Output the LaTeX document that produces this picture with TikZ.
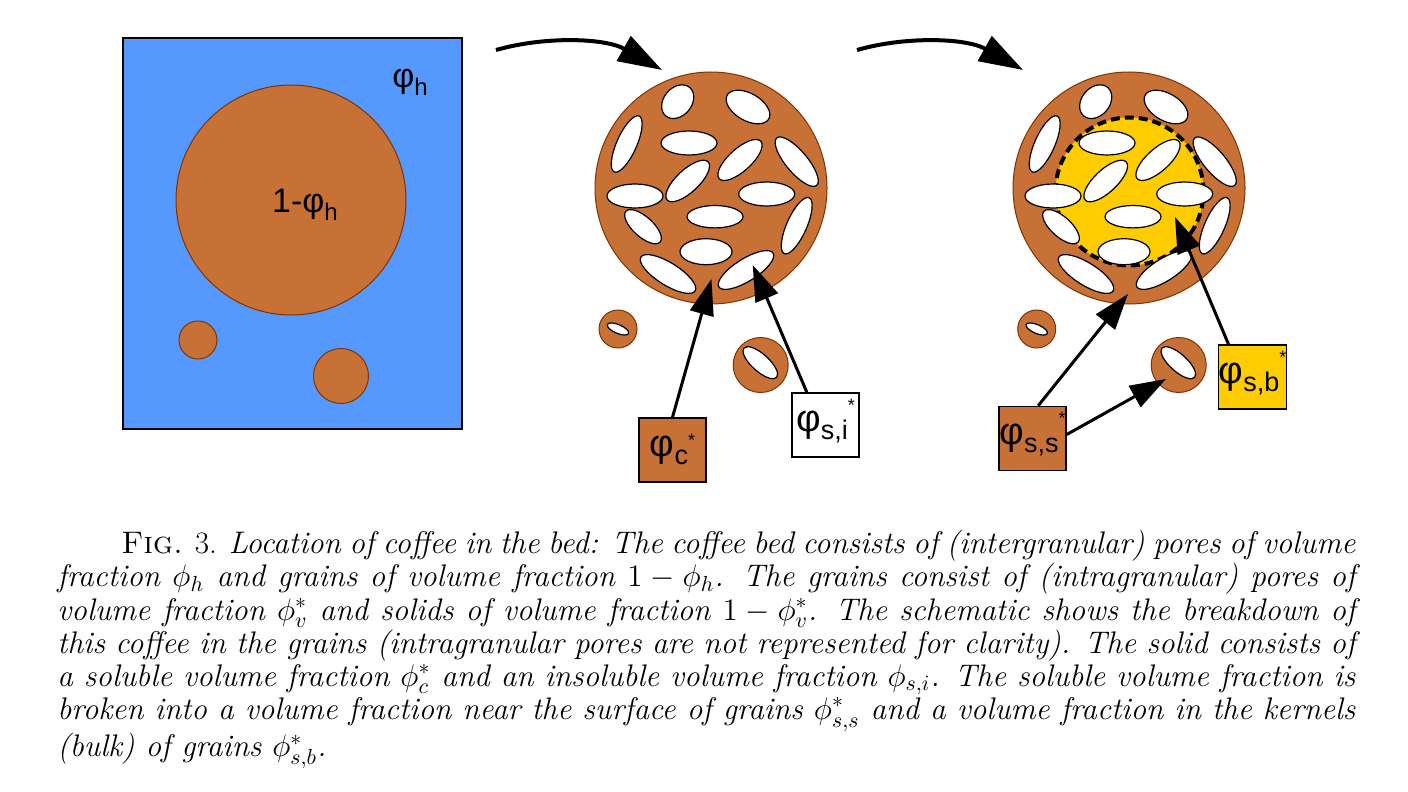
\RequirePackage{fix-cm}
\documentclass[tikz,border=0pt]{standalone}
\usepackage{fontspec}
\newfontfamily\lsans{Liberation Sans}
\usetikzlibrary{arrows.meta}
\definecolor{bedblue}{HTML}{5599FF}
\definecolor{coffee}{HTML}{C87137}
\definecolor{coffeeedge}{HTML}{803300}
\definecolor{kernel}{HTML}{FFCC00}
\newcommand\drawpores[1]{%
  \begin{scope}[shift={#1}]
  \foreach \dx/\dy/\rx/\ry/\a in {
    -33.3/-86.3/9.3pt/7pt/50,
    37/-81/12pt/6.8pt/-30,
    -84.3/-44/15.3pt/5pt/66,
    -22/-45/14pt/6pt/0,
    29/-28/14pt/5.6pt/42,
    85.7/-26.3/15.5pt/5.4pt/-50,
    -23.3/-7/14pt/5.6pt/43,
    -76/8/14pt/6pt/0,
    55.7/6/14pt/6pt/0,
    -68/38.7/11.5pt/5pt/-42,
    4/28.7/14pt/5.6pt/0,
    85.7/37.7/15.3pt/5pt/66,
    -5/63.7/13pt/6.5pt/0,
    -43/86/16pt/5.6pt/-32,
    35/82/16pt/5.6pt/32}{
    \draw[pore, rotate around={\a:(\dx,\dy)}] (\dx,\dy) ellipse [x radius=\rx, y radius=\ry];
  }
  \end{scope}}
\newcommand\subtxt[1]{\fontsize{13.5}{13.5}\selectfont #1}
\newcommand\startxt{\fontsize{9}{9}\selectfont *}
\begin{document}
\begin{tikzpicture}[x=0.5pt,y=-0.5pt,
  grain/.style={circle, inner sep=0pt, fill=coffee, draw=coffeeedge, line width=0.5pt},
  pore/.style={fill=white, draw=black, line width=0.6pt},
  lbox/.style={draw=black, line width=0.8pt, minimum width=33.5pt, minimum height=32pt, inner sep=0pt, font=\lsans\fontsize{19}{19}\selectfont},
  ptr/.style={line width=1.5pt, -{Triangle[length=18pt,width=12pt]}},
  flow/.style={line width=2pt, -{Triangle[length=22pt,width=14pt]}},
  lbl/.style={font=\lsans\fontsize{17}{17}\selectfont, inner sep=0pt}
]
\useasboundingbox (0,0) rectangle (1408,792);
\fill[white] (0,0) rectangle (1408,792);

% left panel: bed
\node[draw=black, line width=0.8pt, fill=bedblue, minimum width=169.5pt, minimum height=195.5pt, inner sep=0pt, anchor=north west] (bed) at (122,37) {};
\node[grain, minimum size=115pt] (g0) at (291,200) {};
\node[grain, minimum size=19pt] (g1) at (198,340) {};
\node[grain, minimum size=27.5pt] (g2) at (341,376) {};
\node[lbl] (lh) at (410,82) {φ\raisebox{-4pt}{\fontsize{12}{12}\selectfont h}};
\node[lbl] (lg) at (305,205) {1-φ\raisebox{-4pt}{\fontsize{12}{12}\selectfont h}};

% middle grain
\node[grain, minimum size=116pt] (mg) at (711,188) {};
\drawpores{(711,188)}
\node[grain, minimum size=19pt] (ms1) at (618,329) {};
\draw[pore, rotate around={-23:(618,329)}] (618,329) ellipse [x radius=5.75pt, y radius=2.2pt];
\node[grain, minimum size=27.5pt] (ms2) at (760.7,365) {};
\draw[pore, rotate around={-42:(760.3,362.7)}] (760.3,362.7) ellipse [x radius=11pt, y radius=4.3pt];

% right grain
\node[grain, minimum size=116pt] (rg) at (1129,188) {};
\node[circle, inner sep=0pt, fill=kernel, draw=black, line width=2pt, dash pattern=on 4.5pt off 2.5pt, minimum size=74pt] (kern) at (1129.5,191.5) {};
\drawpores{(1129,188)}
\node[grain, minimum size=19pt] (rs1) at (1036.7,329) {};
\draw[pore, rotate around={-23:(1036.7,329)}] (1036.7,329) ellipse [x radius=5.75pt, y radius=2.2pt];
\node[grain, minimum size=27.5pt] (rs2) at (1178.7,365) {};
\draw[pore, rotate around={-42:(1178.3,362.7)}] (1178.3,362.7) ellipse [x radius=11pt, y radius=4.3pt];

% label boxes
\node[lbox, fill=coffee] (bc) at (672.5,450) {φ\smash{\raisebox{-4pt}{\subtxt{c}}}\smash{\raisebox{5pt}{\startxt}}};
\node[lbox, fill=white] (bsi) at (825.5,425) {φ\smash{\raisebox{-4pt}{\subtxt{s,i}}}\smash{\raisebox{10pt}{\startxt}}};
\node[lbox, fill=coffee] (bss) at (1032.5,438.5) {φ\smash{\raisebox{-4pt}{\subtxt{s,s}}}\smash{\raisebox{10pt}{\startxt}}};
\node[lbox, fill=kernel] (bsb) at (1252.5,377) {φ\smash{\raisebox{-4pt}{\subtxt{s,b}}}\smash{\raisebox{10pt}{\startxt}}};

% arrow targets
\coordinate (tc) at (711.5,279);
\coordinate (tsi) at (752.7,265);
\coordinate (tss) at (1128,294);
\coordinate (tss2) at (1166,379);
\coordinate (tsb) at (1175,217);
\draw[ptr] (bc.north) -- (tc);
\draw[ptr] ([xshift=7.8pt]bsi.north west) -- (tsi);
\draw[ptr] ([xshift=20pt]bss.north west) -- (tss);
\draw[ptr] ([yshift=2pt]bss.east) -- (tss2);
\draw[ptr] ([xshift=5.3pt]bsb.north west) -- (tsb);

% flow arrows between panels
\coordinate (f1s) at (496,50);
\coordinate (f1e) at (662,70);
\coordinate (f2s) at (857,50);
\coordinate (f2e) at (1023,70);
\draw[flow] (f1s) .. controls (545,36) and (605,38) .. (f1e);
\draw[flow] (f2s) .. controls (906,36) and (966,38) .. (f2e);

% caption
\node[anchor=north west, text width=649pt, align=justify, inner sep=0pt, font=\fontsize{15.6}{16.55}\selectfont] (cap) at (57,530) {\hspace*{32pt}\textsc{Fig.} 3. \textit{Location of coffee in the bed: The coffee bed consists of (intergranular) pores of volume\linebreak
fraction $\phi_h$ and grains of volume fraction $1-\phi_h$.  The grains consist of (intragranular) pores of\linebreak
volume fraction $\phi_v^*$ and solids of volume fraction $1-\phi_v^*$.  The schematic shows the breakdown of\linebreak
this coffee in the grains (intragranular pores are not represented for clarity).  The solid consists of\linebreak
a soluble volume fraction $\phi_c^*$ and an insoluble volume fraction $\phi_{s,i}$.  The soluble volume fraction is\linebreak
broken into a volume fraction near the surface of grains $\phi^*_{s,s}$ and a volume fraction in the kernels\linebreak
(bulk) of grains $\phi^*_{s,b}$.}};
\end{tikzpicture}
\end{document}
